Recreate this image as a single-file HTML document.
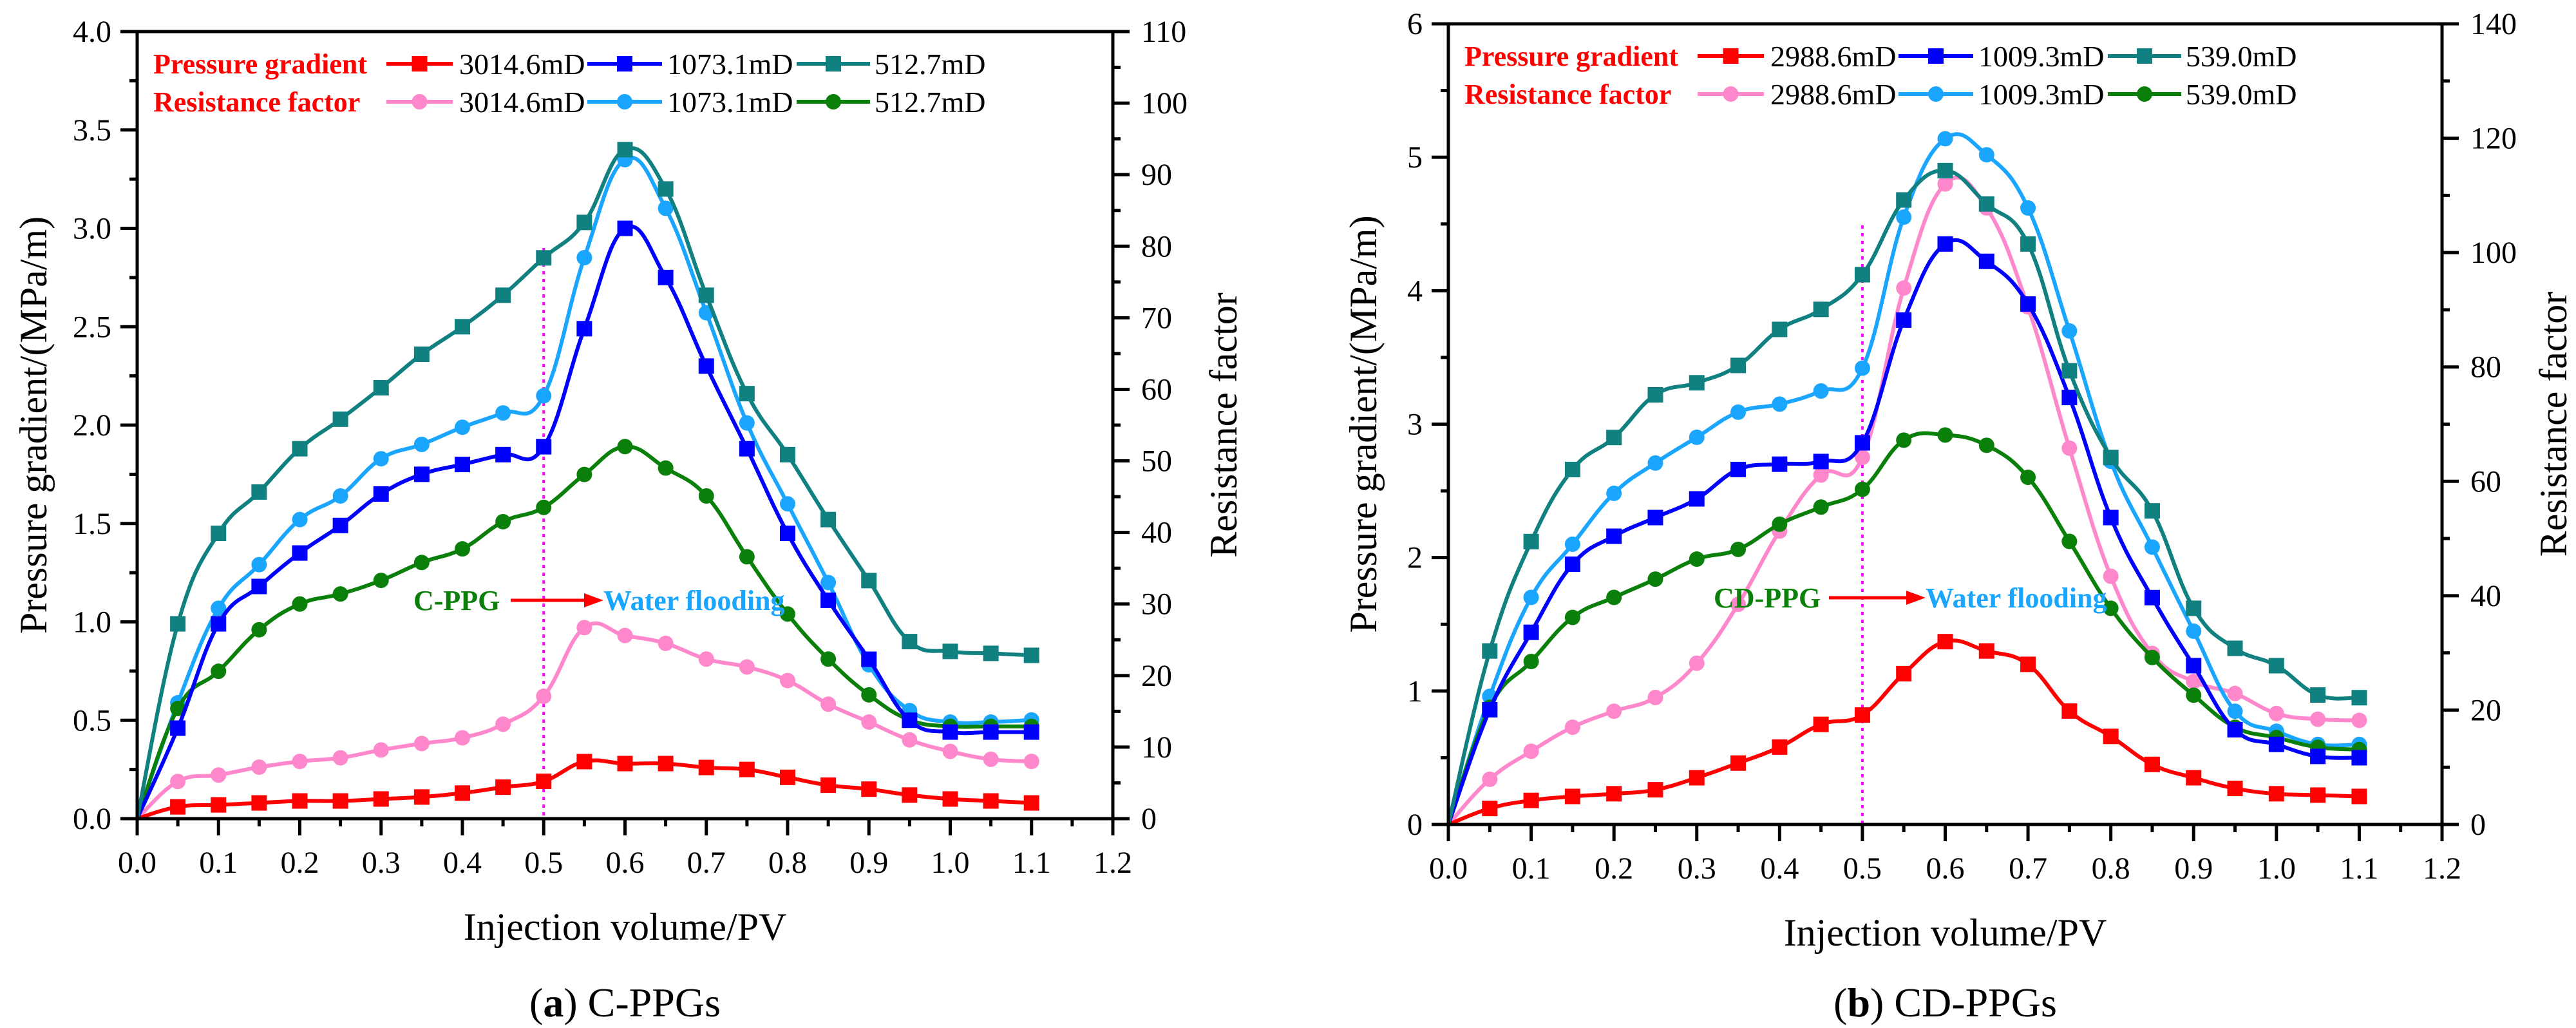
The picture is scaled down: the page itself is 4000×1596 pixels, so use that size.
<!DOCTYPE html>
<html><head><meta charset="utf-8">
<style>
html,body{margin:0;padding:0;background:#fff;}
svg{display:block;}
svg text{font-family:"Liberation Serif","DejaVu Serif","Times New Roman",serif;}
</style></head>
<body>
<svg id="fig" width="4000" height="1596" viewBox="0 0 4000 1596" xmlns="http://www.w3.org/2000/svg" font-family="Liberation Serif, DejaVu Serif, serif"></svg>
<script>
const xValues=[0,0.05,0.1,0.15,0.2,0.25,0.3,0.35,0.4,0.45,0.5,0.55,0.6,0.65,0.7,0.75,0.8,0.85,0.9,0.95,1.0,1.05,1.1];
// chart A (C-PPGs)
const aPG3014=[0,.06,.07,.08,.09,.09,.10,.11,.13,.16,.19,.29,.28,.28,.26,.25,.21,.17,.15,.12,.10,.09,.08];
const aPG1073=[0,.46,.99,1.18,1.35,1.49,1.65,1.75,1.80,1.85,1.89,2.49,3.00,2.75,2.30,1.88,1.45,1.11,.81,.50,.44,.44,.44];
const aPG512=[0,.99,1.45,1.66,1.88,2.03,2.19,2.36,2.50,2.66,2.85,3.03,3.40,3.20,2.66,2.16,1.85,1.52,1.21,.90,.85,.84,.83];
const aRF3014=[0,5.2,6.1,7.2,8.0,8.5,9.6,10.5,11.3,13.2,17.1,26.7,25.6,24.5,22.3,21.2,19.3,16.0,13.5,11.0,9.4,8.3,8.0];
const aRF1073=[0,16.2,29.4,35.5,41.8,45.1,50.3,52.3,54.7,56.7,59.1,78.4,92.1,85.3,70.7,55.3,44.0,33.0,21.5,15.1,13.5,13.5,13.8];
const aRF512=[0,15.4,20.6,26.4,30.0,31.4,33.3,35.8,37.7,41.5,43.5,48.1,52.0,49.0,45.1,36.6,28.6,22.3,17.3,13.8,12.9,12.9,12.9];
// chart B (CD-PPGs)
const bPG2988=[0,.12,.18,.21,.23,.26,.35,.46,.58,.75,.82,1.13,1.37,1.30,1.20,.85,.66,.45,.35,.27,.23,.22,.21];
const bPG1009=[0,.86,1.44,1.95,2.16,2.30,2.44,2.66,2.70,2.72,2.86,3.78,4.35,4.22,3.90,3.20,2.30,1.70,1.19,.71,.60,.51,.50];
const bPG539=[0,1.30,2.12,2.66,2.90,3.22,3.31,3.44,3.71,3.86,4.12,4.68,4.90,4.65,4.35,3.40,2.75,2.35,1.62,1.32,1.19,.97,.95];
const bRF2988=[0,7.9,12.8,17.0,19.8,22.2,28.2,38.5,51.3,61.1,64.2,93.8,112.0,107.8,90.5,65.8,43.4,29.9,25.0,22.9,19.4,18.4,18.2];
const bRF1009=[0,22.4,39.7,49.0,57.9,63.2,67.7,72.1,73.5,75.8,79.8,106.2,119.9,117.1,107.8,86.3,63.5,48.5,33.8,19.8,16.3,14.0,14.0];
const bRF539=[0,20.5,28.5,36.2,39.7,42.9,46.4,48.1,52.5,55.5,58.6,67.2,68.1,66.3,60.7,49.5,37.8,29.2,22.6,17.0,15.2,13.5,13.1];
const xTicks=["0.0","0.1","0.2","0.3","0.4","0.5","0.6","0.7","0.8","0.9","1.0","1.1","1.2"];
const aLeftTicks=["0.0","0.5","1.0","1.5","2.0","2.5","3.0","3.5","4.0"];
const aRightTicks=["0","10","20","30","40","50","60","70","80","90","100","110"];
const bLeftTicks=["0","1","2","3","4","5","6"];
const bRightTicks=["0","20","40","60","80","100","120","140"];
const aLegend=["3014.6mD","1073.1mD","512.7mD"];
const bLegend=["2988.6mD","1009.3mD","539.0mD"];

const NS="http://www.w3.org/2000/svg";
const svg=document.getElementById('fig');
const FF='"Liberation Serif","DejaVu Serif",serif';
function mk(tag,attrs,parent,txt){const e=document.createElementNS(NS,tag);for(const k in attrs)e.setAttribute(k,attrs[k]);if(tag==='text')e.style.fontFamily=FF;if(txt!==undefined)e.textContent=txt;(parent||svg).appendChild(e);return e;}

const C={red:"#ff0000",blue:"#0000ff",teal:"#108080",pink:"#ff88cc",lblue:"#1aa6ff",green:"#0a7f0a"};

function path(pts){
  let d="M"+pts[0][0]+","+pts[0][1];
  for(let i=0;i<pts.length-1;i++){
    const p0=pts[Math.max(0,i-1)],p1=pts[i],p2=pts[i+1],p3=pts[Math.min(pts.length-1,i+2)];
    const t=0.2;
    d+=" C"+(p1[0]+(p2[0]-p0[0])*t)+","+(p1[1]+(p2[1]-p0[1])*t)+" "+(p2[0]-(p3[0]-p1[0])*t)+","+(p2[1]-(p3[1]-p1[1])*t)+" "+p2[0]+","+p2[1];
  }
  return d;
}

function chart(o){
  const g=mk('g',{});
  
  
  const X=v=>o.x0+(v/1.2)*(o.x1-o.x0);
  const YL=v=>o.yb-(v/o.lmax)*(o.yb-o.yt);
  const YR=v=>o.yb-(v/o.rmax)*(o.yb-o.yt);
  const dl=mk('line',{x1:X(0.5),x2:X(0.5),y1:o.dotTop,y2:o.yb,stroke:"#ff00ff","stroke-width":4,"stroke-dasharray":"5,7"},g);
  
  
  const series=[
    {v:o.rf[0],c:C.pink,m:'c',r:true,n:'rf-1'},{v:o.rf[1],c:C.lblue,m:'c',r:true,n:'rf-2'},{v:o.rf[2],c:C.green,m:'c',r:true,n:'rf-3'},
    {v:o.pg[0],c:C.red,m:'s',r:false,n:'pg-1'},{v:o.pg[1],c:C.blue,m:'s',r:false,n:'pg-2'},{v:o.pg[2],c:C.teal,m:'s',r:false,n:'pg-3'}];
  series.forEach(s=>{
    const Y=s.r?YR:YL;
    const pts=xValues.map((x,i)=>[X(x),Y(s.v[i])]);
    const sg=mk('g',{},g);
    
    
    mk('path',{d:path(pts),fill:"none",stroke:s.c,"stroke-width":6},sg);
    pts.slice(1).forEach(p=>{
      if(s.m==='s') mk('rect',{x:p[0]-12,y:p[1]-12,width:24,height:24,fill:s.c},sg);
      else mk('circle',{cx:p[0],cy:p[1],r:12,fill:s.c},sg);
    });
  });
  const ax=mk('g',{stroke:"#000","stroke-width":5,fill:"none"},g);
  
  
  mk('line',{x1:o.x0-3,x2:o.x1+3,y1:o.yb,y2:o.yb},ax);
  mk('line',{x1:o.x0-3,x2:o.x1+3,y1:o.yt,y2:o.yt},ax);
  mk('line',{x1:o.x0,x2:o.x0,y1:o.yt,y2:o.yb},ax);
  mk('line',{x1:o.x1,x2:o.x1,y1:o.yt,y2:o.yb},ax);
  for(let i=0;i<=24;i++){const x=X(i*0.05);mk('line',{x1:x,x2:x,y1:o.yb,y2:o.yb+(i%2?12:26)},ax);}
  const nl=o.lticks.length-1;
  for(let i=0;i<=nl*2;i++){const y=o.yb-(i/(nl*2))*(o.yb-o.yt);mk('line',{x1:o.x0,x2:o.x0-(i%2?12:26),y1:y,y2:y},ax);}
  const nr=o.rticks.length-1;
  for(let i=0;i<=nr*2;i++){const y=o.yb-(i/(nr*2))*(o.yb-o.yt);mk('line',{x1:o.x1,x2:o.x1+(i%2?12:26),y1:y,y2:y},ax);}
  const tl=mk('g',{"font-size":48,fill:"#000"},g);
  
  
  xTicks.forEach((t,i)=>mk('text',{x:X(i*0.1),y:o.yb+84,"text-anchor":"middle"},tl,t));
  o.lticks.forEach((t,i)=>mk('text',{x:o.x0-40,y:o.yb-(i/nl)*(o.yb-o.yt)+16,"text-anchor":"end"},tl,t));
  o.rticks.forEach((t,i)=>mk('text',{x:o.x1+44,y:o.yb-(i/nr)*(o.yb-o.yt)+16,"text-anchor":"start"},tl,t));
  const xt=mk('text',{x:(o.x0+o.x1)/2,y:o.yb+188,"text-anchor":"middle","font-size":60},g,"Injection volume/PV");
  
  const cy=(o.yt+o.yb)/2;
  const yl=mk('text',{x:o.ylx,y:cy+20,"text-anchor":"middle","font-size":60,transform:`rotate(-90 ${o.ylx} ${cy})`},g,"Pressure gradient/(MPa/m)");
  
  const yr=mk('text',{x:o.yrx,y:cy+20,"text-anchor":"middle","font-size":60,transform:`rotate(-90 ${o.yrx} ${cy})`},g,"Resistance factor");
  
  const lg=mk('g',{"font-size":46},g);
  
  
  const r1=o.yt+50,r2=o.yt+109;
  mk('text',{x:o.x0+25,y:r1+15,fill:"#ff0000","font-weight":"bold","font-size":44},lg,"Pressure gradient");
  mk('text',{x:o.x0+25,y:r2+15,fill:"#ff0000","font-weight":"bold","font-size":44},lg,"Resistance factor");
  const segs=[[387,490],[699,815],[1024,1138]];
  const txs=[500,823,1145];
  const pgc=[C.red,C.blue,C.teal],rfc=[C.pink,C.lblue,C.green];
  [0,1,2].forEach(i=>{
    [[r1,pgc[i],'s'],[r2,rfc[i],'c']].forEach(([ry,c,m])=>{
      const e=mk('g',{},lg);
      
      
      mk('line',{x1:o.x0+segs[i][0],x2:o.x0+segs[i][1],y1:ry,y2:ry,stroke:c,"stroke-width":6},e);
      const mx=o.x0+(segs[i][0]+segs[i][1])/2;
      if(m==='s')mk('rect',{x:mx-12,y:ry-12,width:24,height:24,fill:c},e);else mk('circle',{cx:mx,cy:ry,r:12,fill:c},e);
      mk('text',{x:o.x0+txs[i],y:ry+16,fill:"#000"},e,o.legend[i]);
    });
  });
  const an=mk('g',{"font-weight":"bold","font-size":44},g);
  
  
  mk('text',{x:o.annX,y:o.annY+15,fill:C.green},an,o.annLabel);
  mk('line',{x1:o.arrX1,x2:o.arrX2-22,y1:o.annY,y2:o.annY,stroke:"#ff0000","stroke-width":5},an);
  mk('polygon',{points:`${o.arrX2},${o.annY} ${o.arrX2-30},${o.annY-11} ${o.arrX2-30},${o.annY+11}`,fill:"#ff0000"},an);
  mk('text',{x:o.arrX2,y:o.annY+15,fill:C.lblue},an,"Water flooding");
  const cp=mk('text',{x:(o.x0+o.x1)/2,y:1578,"text-anchor":"middle","font-size":64},g);
  
  mk('tspan',{},cp,"(");mk('tspan',{"font-weight":"bold"},cp,o.cap[0]);mk('tspan',{},cp,") "+o.cap[1]);
}

chart({name:'chart-c-ppgs',x0:213,x1:1728,yb:1271,yt:49,lmax:4,rmax:110,lticks:aLeftTicks,rticks:aRightTicks,
  pg:[aPG3014,aPG1073,aPG512],rf:[aRF3014,aRF1073,aRF512],legend:aLegend,ylx:52,yrx:1900,dotTop:385,
  annLabel:"C-PPG",annX:642,annY:932,arrX1:793,arrX2:937,cap:["a","C-PPGs"]});
chart({name:'chart-cd-ppgs',x0:2249,x1:3792,yb:1280,yt:37,lmax:6,rmax:140,lticks:bLeftTicks,rticks:bRightTicks,
  pg:[bPG2988,bPG1009,bPG539],rf:[bRF2988,bRF1009,bRF539],legend:bLegend,ylx:2117,yrx:3965,dotTop:350,
  annLabel:"CD-PPG",annX:2661,annY:928,arrX1:2840,arrX2:2990,cap:["b","CD-PPGs"]});
</script>
</body></html>
